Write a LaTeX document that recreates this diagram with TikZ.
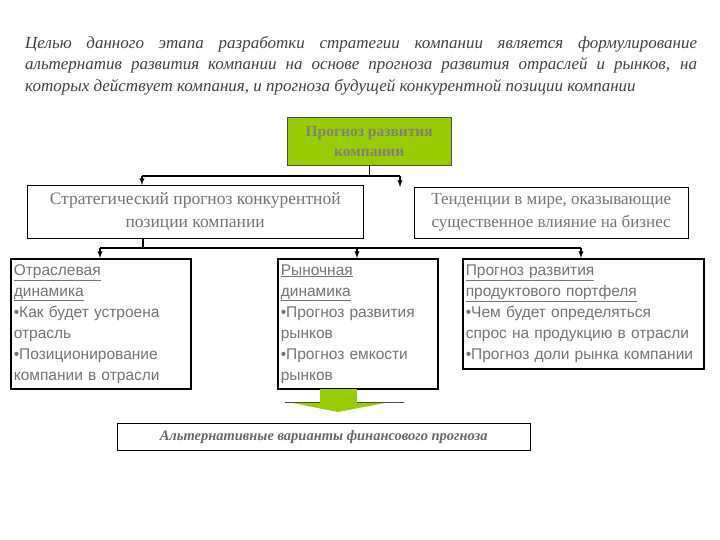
\documentclass[tikz,border=0pt]{standalone}
\usepackage{fontspec}
\setmainfont{Liberation Serif}
\setsansfont{Liberation Sans}
\begin{document}
\begin{tikzpicture}[x=1pt,y=-1pt,
  sbox/.style={draw=black, line width=1.6pt, fill=white, align=left, anchor=north west, inner sep=3pt, font=\sffamily\fontsize{15.5}{21}\selectfont, text=black!55},
  arr/.style={-latex, line width=1.3pt}]
\useasboundingbox (0,0) rectangle (720,540);
\node[anchor=north west, text width=672pt, align=justify, inner sep=0, font=\itshape\fontsize{17}{21.5}\selectfont, text=black!75] (title) at (25,36)
{Целью данного этапа разработки стратегии компании является формулирование альтернатив развития компании на основе прогноза развития отраслей и рынков, на которых действует компания, и прогноза будущей конкурентной позиции компании};
\node[draw=black!70, fill={rgb,255:red,153;green,204;blue,0}, minimum width=164pt, minimum height=48pt, anchor=north west, align=center, font=\bfseries\fontsize{15.5}{20}\selectfont, text=black!50] (top) at (287,117) {Прогноз развития\\компании};
\node[draw=black, fill=white, minimum width=336pt, minimum height=53pt, anchor=north west, align=center, font=\fontsize{17.5}{23}\selectfont, text=black!55] (strat) at (27,185) {Стратегический прогноз конкурентной\\позиции компании};
\node[draw=black, fill=white, minimum width=274pt, minimum height=51pt, anchor=north west, align=center, font=\fontsize{17}{23}\selectfont, text=black!55] (trend) at (414,187) {Тенденции в мире, оказывающие\\существенное влияние на бизнес};
\draw[line width=1.3pt] (top.south) -- ++(0,11) coordinate (j1);
\coordinate (jl) at (142,176); \coordinate (jr) at (400,176);
\draw[line width=1.3pt] (jl) -- (jr);
\draw[arr] (jl) -- (142,185);
\draw[arr] (jr) -- (400,187);
\draw[line width=1.3pt] (143,238) -- (143,248);
\coordinate (ka) at (100,248); \coordinate (kb) at (357,248); \coordinate (kc) at (581,248);
\draw[line width=1.3pt] (ka) -- (kc);
\draw[arr] (ka) -- (100,258);
\draw[arr] (kb) -- (357,258);
\draw[arr] (kc) -- (581,258);
\node[sbox, minimum width=180pt, minimum height=130pt, text width=174pt] (a) at (10,258) {\underline{Отраслевая}\\\underline{динамика}\\•Как будет устроена\\отрасль\\•Позиционирование\\компании в отрасли};
\node[sbox, minimum width=160pt, minimum height=130pt, text width=154pt] (b) at (277,258) {\underline{Рыночная}\\\underline{динамика}\\•Прогноз развития\\рынков\\•Прогноз емкости\\рынков};
\node[sbox, minimum width=241pt, minimum height=110pt, text width=235pt] (c) at (462,258) {\underline{Прогноз развития}\\\underline{продуктового портфеля}\\•Чем будет определяться\\спрос на продукцию в отрасли\\•Прогноз доли рынка компании};
\fill[fill={rgb,255:red,153;green,204;blue,0}] (320,389) rectangle (357,402);
\fill[fill={rgb,255:red,153;green,204;blue,0}] (288,402) -- (390,402) -- (338,412) -- cycle;
\draw[black!70, line width=1pt] (285,402) -- (320,402) (357,402) -- (404,402);
\node[draw=black, fill=white, minimum width=413pt, minimum height=27pt, anchor=north west, font=\bfseries\itshape\fontsize{14.5}{16}\selectfont, text=black!60] (alt) at (117,423) {Альтернативные варианты финансового прогноза};
\end{tikzpicture}
\end{document}
